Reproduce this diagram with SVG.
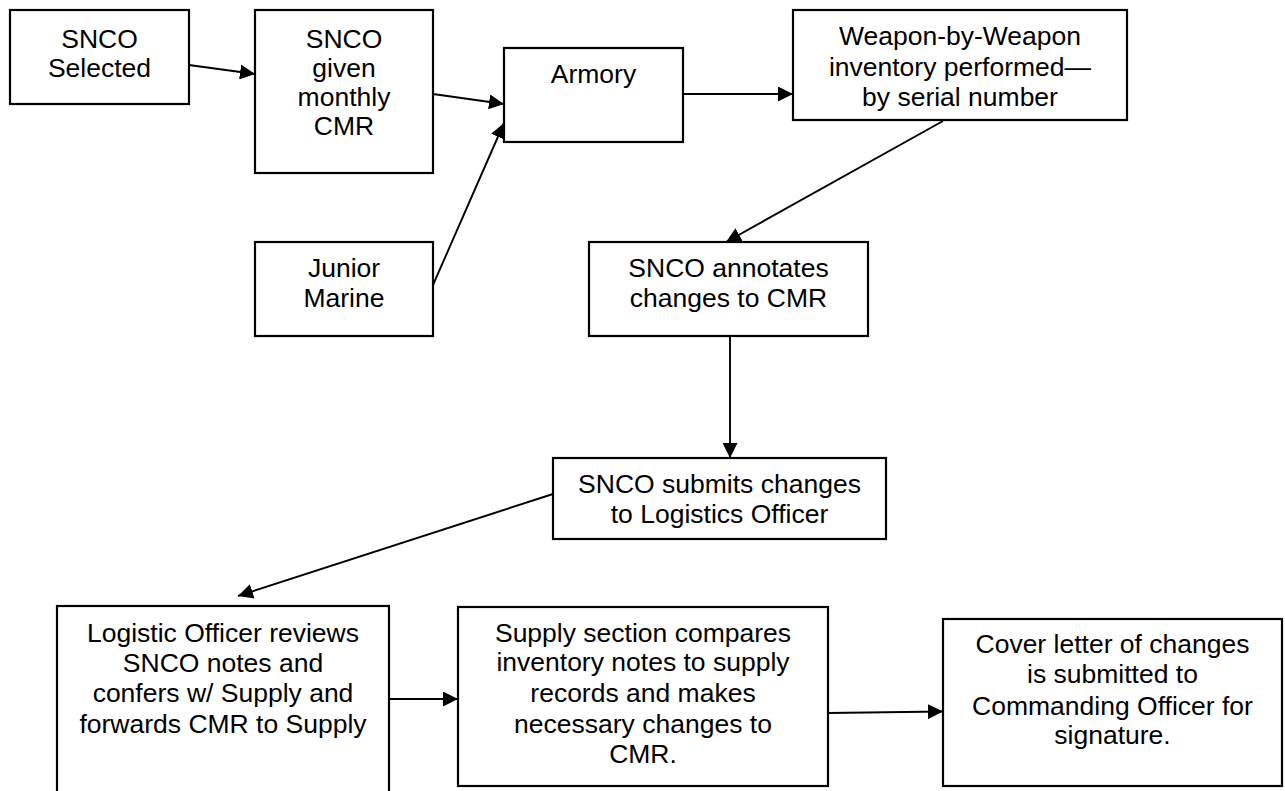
<svg xmlns="http://www.w3.org/2000/svg" width="1285" height="791" viewBox="0 0 1285 791">
  <style>
    .box { fill: #ffffff; stroke: #000000; stroke-width: 2.2; }
    .lbl { font-family: "Liberation Sans", Arial, Helvetica, sans-serif; font-size: 26.5px; fill: #000000; text-anchor: middle; }
    .conn { fill: none; stroke: #000000; stroke-width: 1.9; marker-end: url(#arrow); }
  </style>
  <defs>
    <marker id="arrow" markerUnits="userSpaceOnUse" markerWidth="15" markerHeight="15" refX="15" refY="7.5" orient="auto">
      <path d="M0,0 L15,7.5 L0,15 Z" fill="#000000"/>
    </marker>
  </defs>
  <rect width="1285" height="791" fill="#ffffff"/>

  <!-- process steps -->
  <g id="snco-selected">
    <rect class="box" x="10" y="10" width="179" height="94"/>
    <text class="lbl" x="99.5" y="48">SNCO</text>
    <text class="lbl" x="99.5" y="77">Selected</text>
  </g>
  <g id="snco-given-cmr">
    <rect class="box" x="255" y="10" width="178" height="163"/>
    <text class="lbl" x="344" y="48">SNCO</text>
    <text class="lbl" x="344" y="77">given</text>
    <text class="lbl" x="344" y="106">monthly</text>
    <text class="lbl" x="344" y="135">CMR</text>
  </g>
  <g id="armory">
    <rect class="box" x="504" y="48" width="179" height="94"/>
    <text class="lbl" x="593.5" y="83">Armory</text>
  </g>
  <g id="weapon-inventory">
    <rect class="box" x="793" y="10" width="334" height="110"/>
    <text class="lbl" x="960" y="45">Weapon-by-Weapon</text>
    <text class="lbl" x="960" y="76">inventory performed—</text>
    <text class="lbl" x="960" y="106">by serial number</text>
  </g>
  <g id="junior-marine">
    <rect class="box" x="255" y="242" width="178" height="94"/>
    <text class="lbl" x="344" y="277">Junior</text>
    <text class="lbl" x="344" y="307">Marine</text>
  </g>
  <g id="snco-annotates">
    <rect class="box" x="589" y="242" width="279" height="94"/>
    <text class="lbl" x="728.5" y="277">SNCO annotates</text>
    <text class="lbl" x="728.5" y="307">changes to CMR</text>
  </g>
  <g id="snco-submits">
    <rect class="box" x="553" y="458" width="333" height="81"/>
    <text class="lbl" x="719.5" y="493">SNCO submits changes</text>
    <text class="lbl" x="719.5" y="523">to Logistics Officer</text>
  </g>
  <g id="logistic-officer">
    <rect class="box" x="57" y="606" width="332" height="195"/>
    <text class="lbl" x="223" y="642">Logistic Officer reviews</text>
    <text class="lbl" x="223" y="672">SNCO notes and</text>
    <text class="lbl" x="223" y="702">confers w/ Supply and</text>
    <text class="lbl" x="223" y="733">forwards CMR to Supply</text>
  </g>
  <g id="supply-section">
    <rect class="box" x="458" y="607" width="370" height="179"/>
    <text class="lbl" x="643" y="642">Supply section compares</text>
    <text class="lbl" x="643" y="671">inventory notes to supply</text>
    <text class="lbl" x="643" y="702">records and makes</text>
    <text class="lbl" x="643" y="733">necessary changes to</text>
    <text class="lbl" x="643" y="763">CMR.</text>
  </g>
  <g id="cover-letter">
    <rect class="box" x="943" y="619" width="339" height="167"/>
    <text class="lbl" x="1112.5" y="653">Cover letter of changes</text>
    <text class="lbl" x="1112.5" y="683">is submitted to</text>
    <text class="lbl" x="1112.5" y="715">Commanding Officer for</text>
    <text class="lbl" x="1112.5" y="744">signature.</text>
  </g>

  <!-- flow connectors -->
  <g id="connectors">
    <line class="conn" x1="189" y1="65" x2="255" y2="74"/>
    <line class="conn" x1="433" y1="94" x2="504" y2="104"/>
    <line class="conn" x1="433" y1="285" x2="504" y2="123"/>
    <line class="conn" x1="683" y1="94" x2="793" y2="94"/>
    <line class="conn" x1="943" y1="121" x2="726" y2="242"/>
    <line class="conn" x1="730" y1="336" x2="730" y2="458"/>
    <line class="conn" x1="553" y1="494" x2="238" y2="596"/>
    <line class="conn" x1="389" y1="699" x2="458" y2="699"/>
    <line class="conn" x1="828" y1="713" x2="943" y2="711.5"/>
  </g>
</svg>
